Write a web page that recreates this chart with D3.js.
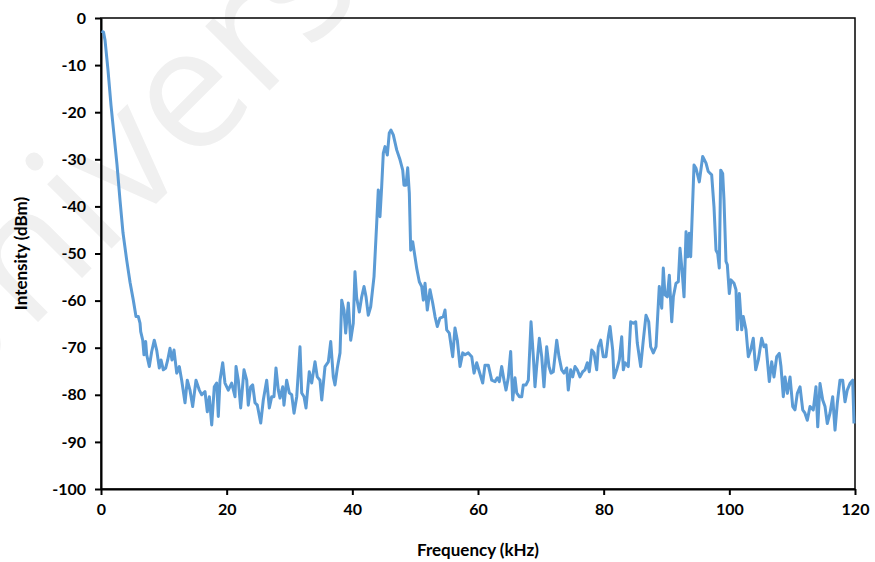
<!DOCTYPE html>
<html>
<head>
<meta charset="utf-8">
<script src="https://cdn.jsdelivr.net/npm/d3@7"></script>
<style>
  body { margin: 0; background: #fff; }
  svg text { font-family: Lato, "Open Sans", sans-serif; font-weight: bold; }
</style>
</head>
<body>
<svg id="chart" width="875" height="562"></svg>
<script>
// spectrum
const freq = [0.08, 0.4, 0.64, 1.11, 1.59, 2.07, 2.55, 3.02, 3.5, 4.09, 4.62, 5.14, 5.57, 5.94, 6.21, 6.32, 6.64, 6.84, 7.11, 7.27,
  7.69, 8.07, 8.48, 8.86, 9.28, 9.55, 9.92, 10.3, 10.62, 10.98, 11.3, 11.62, 12.05, 12.46, 12.84, 13.37, 13.73, 14.16, 14.59, 15.12,
  15.64, 16.03, 16.55, 16.92, 17.24, 17.62, 18.03, 18.41, 18.67, 18.94, 19.37, 19.73, 20.26, 20.8, 21.33, 21.49, 21.85, 22.23, 22.76, 23.19,
  23.44, 23.82, 24.14, 24.51, 24.88, 25.42, 25.83, 26.37, 26.79, 27.17, 27.53, 27.85, 28.22, 28.49, 28.92, 29.12, 29.55, 29.97, 30.35, 30.72,
  31.15, 31.67, 31.94, 32.31, 32.63, 33.15, 33.53, 34.06, 34.42, 34.85, 35.13, 35.65, 36.18, 36.56, 36.97, 37.24, 37.61, 38.04, 38.31, 38.67,
  38.94, 39.36, 39.74, 40.15, 40.42, 40.69, 41.11, 41.49, 41.86, 42.18, 42.54, 42.92, 43.45, 43.88, 44.13, 44.4, 44.67, 44.93, 45.2, 45.57,
  45.88, 46.15, 46.52, 47.06, 47.59, 48.02, 48.22, 48.54, 48.81, 49.07, 49.29, 49.61, 49.97, 50.24, 50.66, 51.04, 51.3, 51.57, 51.93, 52.36,
  52.79, 53.16, 53.52, 53.95, 54.48, 54.75, 55.02, 55.43, 55.97, 56.34, 56.71, 57.14, 57.57, 57.93, 58.46, 59.0, 59.37, 59.79, 60.21, 60.75,
  61.11, 61.64, 62.18, 62.71, 63.07, 63.39, 63.77, 64.14, 64.46, 64.82, 65.2, 65.52, 65.89, 66.16, 66.57, 66.96, 67.21, 67.64, 68.01, 68.44,
  68.81, 69.07, 69.34, 69.76, 70.14, 70.5, 70.93, 71.3, 71.62, 71.98, 72.53, 72.89, 73.32, 73.69, 74.12, 74.37, 74.75, 75.07, 75.44, 75.8,
  76.23, 76.66, 77.03, 77.4, 77.71, 78.1, 78.46, 78.89, 79.15, 79.53, 79.94, 80.37, 80.74, 81.01, 81.44, 81.64, 82.07, 82.49, 82.87, 83.13,
  83.4, 83.92, 84.3, 84.72, 85.1, 85.35, 85.89, 86.31, 86.74, 87.17, 87.48, 87.9, 88.33, 88.85, 89.24, 89.49, 89.76, 90.13, 90.45, 90.83,
  91.09, 91.51, 91.88, 92.15, 92.47, 92.79, 93.11, 93.37, 93.63, 93.85, 94.38, 94.7, 95.22, 95.76, 96.29, 96.65, 97.19, 97.56, 97.88, 98.15,
  98.4, 98.63, 98.94, 99.15, 99.47, 99.68, 100.0, 100.27, 100.74, 101.06, 101.27, 101.59, 101.97, 102.22, 102.65, 103.02, 103.4, 103.81, 104.2, 104.61,
  105.15, 105.52, 105.83, 106.36, 106.74, 107.11, 107.54, 107.95, 108.22, 108.59, 108.86, 109.23, 109.66, 110.09, 110.45, 110.82, 111.25, 111.68, 112.04, 112.41,
  112.84, 113.36, 113.79, 114.07, 114.43, 114.86, 115.23, 115.59, 116.02, 116.45, 116.82, 117.18, 117.61, 118.04, 118.41, 118.77, 119.2, 119.63, 119.84];
const dbm = [-2.8, -3.0, -4.7, -11.0, -18.5, -24.8, -31.2, -38.6, -45.6, -51.4, -56.1, -59.9, -63.4, -63.4, -64.8, -66.6, -68.4, -71.5, -68.7, -71.5,
  -74.0, -70.8, -68.4, -70.5, -74.3, -72.6, -74.7, -74.3, -72.6, -70.1, -72.6, -70.5, -75.4, -74.0, -76.9, -81.7, -76.9, -79.0, -82.5, -76.9,
  -79.0, -80.0, -79.3, -83.6, -80.4, -86.4, -78.3, -77.5, -84.6, -76.9, -73.2, -77.5, -79.0, -77.5, -80.4, -74.0, -76.9, -82.8, -74.7, -76.9,
  -82.2, -78.3, -77.9, -81.7, -82.2, -86.0, -81.1, -76.9, -82.8, -80.4, -80.4, -74.3, -79.0, -80.7, -78.3, -82.2, -76.9, -79.6, -80.0, -83.9,
  -80.4, -69.8, -79.6, -80.4, -82.8, -75.1, -77.5, -73.0, -76.2, -76.9, -81.1, -74.0, -73.0, -68.7, -76.2, -77.9, -74.3, -71.1, -59.9, -62.0,
  -66.9, -60.5, -68.4, -64.8, -53.9, -59.4, -62.4, -59.2, -57.0, -59.2, -63.1, -61.3, -54.9, -43.5, -36.5, -42.2, -35.8, -28.7, -27.3, -29.1,
  -24.4, -23.8, -24.8, -28.0, -30.1, -32.3, -35.5, -35.5, -31.8, -37.2, -49.3, -47.5, -50.7, -53.1, -56.0, -57.0, -59.9, -56.3, -62.0, -57.7,
  -60.5, -63.4, -65.5, -63.7, -63.4, -62.0, -66.2, -66.9, -71.9, -65.8, -68.4, -74.0, -71.1, -71.5, -71.1, -71.9, -75.4, -73.2, -75.1, -77.5,
  -73.7, -73.7, -76.9, -77.2, -76.4, -77.2, -74.0, -76.9, -79.0, -76.4, -70.8, -81.1, -76.4, -79.6, -80.4, -80.4, -77.9, -77.9, -76.9, -64.5,
  -71.9, -78.3, -74.0, -68.0, -71.9, -78.3, -69.8, -74.0, -75.4, -75.1, -68.4, -71.9, -74.7, -75.4, -74.3, -79.0, -74.7, -76.2, -74.0, -74.7,
  -76.2, -75.1, -74.7, -73.2, -75.1, -70.5, -71.1, -74.7, -69.8, -68.4, -71.9, -71.9, -67.7, -65.5, -70.5, -76.4, -74.7, -72.6, -67.7, -74.7,
  -73.2, -74.0, -64.5, -64.8, -64.5, -69.0, -74.0, -68.4, -63.1, -64.5, -69.8, -71.1, -69.8, -57.0, -61.6, -53.1, -58.8, -59.2, -54.6, -64.5,
  -59.2, -56.3, -56.0, -48.9, -53.5, -59.2, -45.4, -50.7, -45.7, -50.7, -31.2, -31.9, -34.8, -29.4, -30.8, -32.6, -33.3, -40.1, -49.3, -50.0,
  -53.1, -32.3, -33.0, -38.6, -51.7, -52.4, -58.5, -55.6, -56.3, -57.7, -66.2, -58.5, -66.2, -63.4, -66.2, -71.9, -70.5, -68.0, -74.7, -72.6,
  -68.0, -69.8, -69.4, -77.2, -73.0, -76.2, -71.9, -71.2, -74.0, -80.4, -76.2, -79.7, -76.2, -82.5, -83.2, -79.7, -78.3, -83.2, -83.9, -85.4,
  -82.5, -83.2, -78.3, -86.8, -77.6, -81.1, -82.5, -86.1, -83.9, -80.4, -87.5, -81.8, -76.9, -76.9, -81.5, -79.0, -77.6, -76.9, -86.1];

const xTicks = [0, 20, 40, 60, 80, 100, 120];
const yTicks = [0, -10, -20, -30, -40, -50, -60, -70, -80, -90, -100];

const margin = { top: 18, right: 20, bottom: 73, left: 101 };
const width = 875 - margin.left - margin.right;
const height = 562 - margin.top - margin.bottom;

const root = d3.select("#chart");

// faint watermark behind the plot, clipped to the page like the source
root.append("clipPath").attr("id", "page")
  .append("rect").attr("width", 875).attr("height", 562);

root.append("g").attr("clip-path", "url(#page)")
  .append("text")
  .attr("transform", "translate(-60,420) rotate(-45)")
  .attr("fill", "#f0f0f0")
  .style("font-family", "'Open Sans', sans-serif")
  .style("font-weight", "normal")
  .attr("font-size", 170)
  .text("University");

const svg = root.append("g")
  .attr("transform", "translate(" + margin.left + "," + margin.top + ")");

const x = d3.scaleLinear().domain([0, 120]).range([0, width]);
const y = d3.scaleLinear().domain([-100, 0]).range([height, 0]);

// plot frame
svg.append("rect")
  .attr("width", width)
  .attr("height", height)
  .attr("fill", "none")
  .attr("stroke", "#000")
  .attr("stroke-width", 1.5);

const xAxis = svg.append("g")
  .attr("transform", "translate(0," + height + ")")
  .call(d3.axisBottom(x).tickValues(xTicks).tickFormat(d => String(d))
    .tickSize(6).tickSizeOuter(0).tickPadding(9));

const yAxis = svg.append("g")
  .call(d3.axisLeft(y).tickValues(yTicks).tickFormat(d => String(d))
    .tickSize(6).tickSizeOuter(0).tickPadding(9));

[xAxis, yAxis].forEach(a => {
  a.select(".domain").attr("stroke", "#000").attr("stroke-width", 2);
  a.selectAll(".tick line").attr("stroke", "#000").attr("stroke-width", 2);
  a.selectAll(".tick text").attr("font-size", 16).attr("fill", "#000")
    .style("font-family", "Lato, 'Open Sans', sans-serif").style("font-weight", "bold");
});

const points = freq.map((f, i) => [f, dbm[i]]);

svg.append("path")
  .datum(points)
  .attr("fill", "none")
  .attr("stroke", "#5B9BD5")
  .attr("stroke-width", 3)
  .attr("stroke-linejoin", "round")
  .attr("d", d3.line().x(d => x(d[0])).y(d => y(d[1])));

svg.append("text")
  .attr("x", width / 2)
  .attr("y", height + 67)
  .attr("text-anchor", "middle")
  .attr("font-size", 17)
  .text("Frequency (kHz)");

svg.append("text")
  .attr("transform", "translate(" + (-74) + "," + (height / 2) + ") rotate(-90)")
  .attr("text-anchor", "middle")
  .attr("font-size", 17)
  .text("Intensity (dBm)");
</script>
</body>
</html>
